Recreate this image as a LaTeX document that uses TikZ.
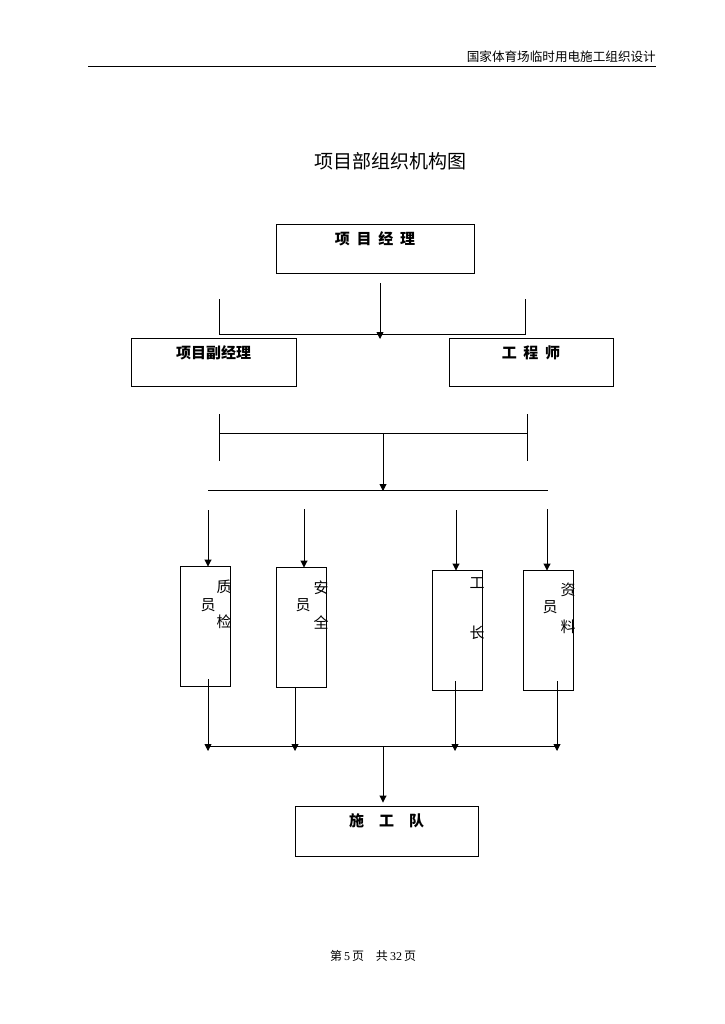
\documentclass[tikz,border=0pt]{standalone}
\usepackage{fontspec}
\setmainfont{Liberation Serif}
\newfontfamily\cjk{Noto Sans CJK SC}
\usetikzlibrary{arrows.meta,positioning,calc}
\tikzset{
  box/.style={draw,line width=0.9pt,inner sep=0pt,text height=20pt,
    font=\cjk\bfseries\fontsize{15}{17}\selectfont},
  tall/.style={draw,line width=0.9pt,inner sep=0pt,minimum width=50pt,minimum height=120pt},
  ch/.style={inner sep=0pt,font=\cjk\fontsize{15}{17}\selectfont},
  link/.style={line width=0.9pt},
  flow/.style={link,-{Triangle[length=7pt,width=7pt]}},
}
\begin{document}
\begin{tikzpicture}[x=1pt,y=-1pt]
  \useasboundingbox (0,0) rectangle (724,1024);
  % page header and title
  \node[anchor=south east,inner sep=0pt,font=\cjk\fontsize{12.6}{14}\selectfont] (head) at (656,63) {国家体育场临时用电施工组织设计};
  \coordinate (rulel) at (88,66);
  \coordinate (ruler) at (656,66);
  \draw[line width=0.8pt] (rulel) -- (ruler);
  \node[font=\cjk\fontsize{19}{21}\selectfont] (title) at (390,161) {项目部组织机构图};

  % boxes
  \node[box,minimum width=198pt,text depth=29pt] (pm) at (375,248.5) {项\hspace{0.45em}目\hspace{0.45em}经\hspace{0.45em}理};
  \node[box,minimum width=165pt,text depth=28pt] (dpm) at (213.5,362) {项目副经理};
  \node[box,minimum width=164pt,text depth=28pt] (eng) at (531,362) {工\hspace{0.45em}程\hspace{0.45em}师};
  \node[tall] (qc) at (205,626) {};
  \node[tall] (safe) at (301,627) {};
  \node[tall] (fore) at (457,630) {};
  \node[tall] (data) at (548,630) {};
  \node[box,minimum width=183pt,text depth=30pt] (team) at (386.5,831) {施\hspace{1em}工\hspace{1em}队};

  % labels in the tall boxes
  \node[ch] (qc1) at (224,587) {质};
  \node[ch] (qc2) at (208,605) {员};
  \node[ch] (qc3) at (224,622) {检};
  \node[ch] (sa1) at (321,588) {安};
  \node[ch] (sa2) at (303,605) {员};
  \node[ch] (sa3) at (321,623) {全};
  \node[ch] (fo1) at (477,583) {工};
  \node[ch] (fo2) at (477,633) {长};
  \node[ch] (da1) at (568,590) {资};
  \node[ch] (da2) at (550,607) {员};
  \node[ch] (da3) at (568,627) {料};

  % first bracket
  \coordinate (pmout) at (380,283);
  \coordinate (tl) at (219,299);
  \coordinate (tr) at (525,299);
  \coordinate (bl) at (219,335);
  \coordinate (br) at (525,335);
  \draw[link] (tl) -- (bl);
  \draw[link] (tr) -- (br);
  \draw[link] (219,334) -- (525,334);
  \draw[flow] (pmout) -- (380,339);

  % second bracket
  \coordinate (ml) at (219,414);
  \coordinate (mr) at (527,414);
  \draw[link] (ml) -- (219,461);
  \draw[link] (mr) -- (527,461);
  \draw[link] (219,433) -- (527,433);
  \coordinate (busl) at (208,490);
  \coordinate (busr) at (548,490);
  \draw[link] (busl) -- (busr);
  \draw[flow] (383,433) -- (383,491);

  % down to the staff
  \foreach \x/\y/\b in {208/510/qc,304/509/safe,456/510/fore,547/509/data}
    \draw[flow] (\x,\y) -- ([yshift=-1pt]\x,0 |- \b.north);

  % up from the staff
  \foreach \x/\y in {208/679,295/687,455/681,557/681}
    \draw[flow] (\x,\y) -- (\x,751);
  \coordinate (lowl) at (208,746);
  \coordinate (lowr) at (557,746);
  \draw[link] (lowl) -- (lowr);
  \draw[flow] (383,746) -- ([yshift=3pt]383,0 |- team.north);

  % footer
  \node[font=\fontsize{12}{14}\selectfont] (foot) at (373,956) {{\cjk 第}\,5\,{\cjk 页}\quad{\cjk 共}\,32\,{\cjk 页}};
\end{tikzpicture}
\end{document}
